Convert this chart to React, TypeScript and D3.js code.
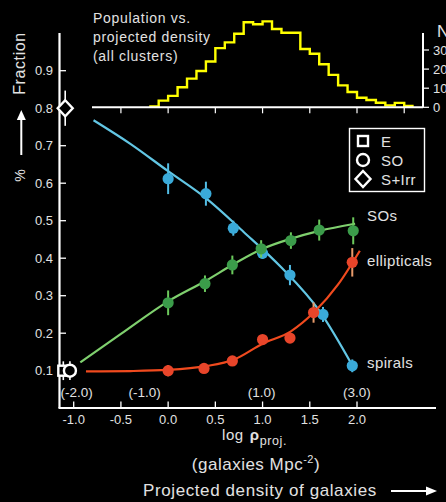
import React from 'react';
import * as d3 from 'd3';

const W = 446;
const H = 502;
const FONT = '"Liberation Sans", Arial, sans-serif';
const TXT = '#e2e2e2';

// main panel axes
const yTicks = [0.1, 0.2, 0.3, 0.4, 0.5, 0.6, 0.7, 0.8, 0.9];
const xTicks = [-1.0, -0.5, 0.0, 0.5, 1.0, 1.5, 2.0];
const densityLabels = ['(-2.0)', '(-1.0)', '(1.0)', '(3.0)'];
const densityLabelAt = [-0.97, -0.25, 0.99, 2.0];

// inset histogram: population vs projected density
const histStart = -0.2;
const histBin = 0.1;
const histCounts = [
  0.5, 3.5, 6, 10.5, 15, 19, 24, 31, 34, 38.5, 44.5, 43.5, 45, 41,
  39, 39, 30.5, 28, 22.5, 17, 11.5, 8, 5, 3.8, 2.4, 1, 2.3, 0.7,
];
const histTicks = [-0.5, 0, 0.5, 1, 1.5, 2, 2.5];
const histNTicks = [0, 10, 20, 30];

// spirals
const spiralX = [0, 0.4, 0.69, 1.0, 1.29, 1.64, 1.95];
const spiralY = [0.612, 0.572, 0.48, 0.413, 0.355, 0.25, 0.113];
const spiralErr = [0.041, 0.032, 0.02, 0.015, 0.027, 0.02, 0.017];
const spiralFitX = [-0.79, -0.4, 0, 0.4, 0.8, 1.2, 1.6, 1.97];
const spiralFitY = [0.768, 0.705, 0.632, 0.56, 0.47, 0.375, 0.26, 0.105];

// S0s
const soX = [0, 0.39, 0.68, 0.985, 1.3, 1.6, 1.96];
const soY = [0.281, 0.332, 0.382, 0.425, 0.447, 0.475, 0.473];
const soErr = [0.033, 0.022, 0.025, 0.023, 0.022, 0.028, 0.036];
const soFitX = [-0.93, -0.5, 0, 0.4, 0.7, 1.0, 1.3, 1.6, 1.98];
const soFitY = [0.122, 0.198, 0.285, 0.34, 0.385, 0.425, 0.452, 0.473, 0.492];

// ellipticals
const ellX = [0, 0.38, 0.68, 1.0, 1.29, 1.54, 1.95];
const ellY = [0.1, 0.106, 0.126, 0.183, 0.187, 0.255, 0.389];
const ellErr = [0.015, 0, 0, 0, 0, 0.027, 0.038];
const ellFitX = [-0.87, -0.4, 0, 0.4, 0.7, 1.0, 1.3, 1.55, 1.8, 2.03];
const ellFitY = [0.098, 0.099, 0.102, 0.112, 0.13, 0.172, 0.205, 0.257, 0.33, 0.42];

// field values drawn at the left edge
const fieldTypes = ['E', 'SO', 'S+Irr'];
const fieldX = [-1.11, -1.04, -1.09];
const fieldY = [0.1, 0.1, 0.8];
const fieldErr = [0.025, 0.025, 0.047];

const x = d3.scaleLinear().domain([-1, 2]).range([73.7, 357]);
const y = d3.scaleLinear().domain([0.1, 0.9]).range([370.7, 70.7]);
const hy = d3.scaleLinear().domain([0, 30]).range([107.3, 50]);

const fitLine = d3
  .line<[number, number]>()
  .x((d) => x(d[0]))
  .y((d) => y(d[1]))
  .curve(d3.curveMonotoneX);

const histLine = d3
  .line<[number, number]>()
  .x((d) => x(d[0]))
  .y((d) => hy(d[1]))
  .curve(d3.curveStepAfter);

function Marker({ type, cx, cy }: { type: string; cx: number; cy: number }) {
  const common = { fill: '#000', stroke: '#fff', strokeWidth: 2.4 };
  if (type === 'E') return <rect x={cx - 5} y={cy - 5} width={10} height={10} {...common} />;
  if (type === 'SO') return <circle cx={cx} cy={cy} r={6} {...common} />;
  return (
    <path
      d={`M${cx},${cy - 8}L${cx + 7.5},${cy}L${cx},${cy + 8}L${cx - 7.5},${cy}Z`}
      {...common}
    />
  );
}

function Series({ xs, ys, errs, fx, fy, color, lineColor, errColor }: any) {
  const fit = fx.map((v: number, i: number) => [v, fy[i]] as [number, number]);
  return (
    <g>
      <path d={fitLine(fit) || ''} fill="none" stroke={lineColor} strokeWidth={2.2} />
      {xs.map((v: number, i: number) => (
        <g key={i}>
          {errs[i] > 0 && (
            <line
              x1={x(v)}
              x2={x(v)}
              y1={y(ys[i] + errs[i])}
              y2={y(ys[i] - errs[i])}
              stroke={errColor}
              strokeWidth={2}
            />
          )}
          <circle cx={x(v)} cy={y(ys[i])} r={5.6} fill={color} />
        </g>
      ))}
    </g>
  );
}

export default function App() {
  const histPts = histCounts.map((c, i) => [histStart + i * histBin, c] as [number, number]);
  histPts.push([histStart + histCounts.length * histBin, histCounts[histCounts.length - 1]]);

  return (
    <svg
      width={W}
      height={H}
      style={{ position: 'absolute', left: 0, top: 0, background: '#000' }}
      fontFamily={FONT}
    >
      <rect width={W} height={H} fill="#000" />

      {/* inset histogram */}
      <g>
        <text fill={TXT} fontSize={14} letterSpacing={0.7}>
          <tspan x={93} y={23}>Population vs.</tspan>
          <tspan x={93} y={42}>projected density</tspan>
          <tspan x={93} y={61}>(all clusters)</tspan>
        </text>
        <path d={histLine(histPts) || ''} fill="none" stroke="#ffff00" strokeWidth={2.4} />
        <line x1={92} x2={423} y1={hy(0)} y2={hy(0)} stroke="#fff" strokeWidth={2} />
        {histTicks.map((t) => (
          <line key={t} x1={x(t)} x2={x(t)} y1={hy(0)} y2={hy(0) + 6} stroke="#fff" strokeWidth={1.2} />
        ))}
        <line x1={423} x2={423} y1={33} y2={hy(0)} stroke="#fff" strokeWidth={2} />
        {histNTicks.map((t) => (
          <g key={t}>
            <line x1={423} x2={429} y1={hy(t)} y2={hy(t)} stroke="#fff" strokeWidth={1.2} />
            <text x={433} y={hy(t) + 5} fill={TXT} fontSize={13}>{t}</text>
          </g>
        ))}
        <text x={437} y={37} fill={TXT} fontSize={17}>N</text>
      </g>

      {/* axes */}
      <line x1={59.5} x2={59.5} y1={33} y2={408} stroke="#fff" strokeWidth={2.2} />
      <line x1={58.5} x2={436} y1={408} y2={408} stroke="#fff" strokeWidth={2.2} />
      {yTicks.map((t) => (
        <g key={t}>
          <line x1={59.5} x2={66} y1={y(t)} y2={y(t)} stroke="#fff" strokeWidth={1.3} />
          <text x={53} y={y(t) + 4.6} textAnchor="end" fill={TXT} fontSize={13}>
            {t.toFixed(1)}
          </text>
        </g>
      ))}
      {xTicks.map((t) => (
        <g key={t}>
          <line x1={x(t)} x2={x(t)} y1={401.5} y2={408} stroke="#fff" strokeWidth={1.3} />
          <text x={x(t)} y={424} textAnchor="middle" fill={TXT} fontSize={13}>
            {t.toFixed(1)}
          </text>
        </g>
      ))}
      {densityLabels.map((l, i) => (
        <text key={l} x={x(densityLabelAt[i])} y={397} textAnchor="middle" fill={TXT} fontSize={13.5}>
          {l}
        </text>
      ))}

      {/* left axis titles */}
      <text transform="translate(25,63.5) rotate(-90)" textAnchor="middle" fill={TXT} fontSize={16} letterSpacing={0.6}>
        Fraction
      </text>
      <line x1={21.3} x2={21.3} y1={155} y2={117} stroke="#fff" strokeWidth={2} />
      <path d="M21.3,110L16.8,120L25.8,120Z" fill="#fff" />
      <text transform="translate(24.5,175.5) rotate(-90)" textAnchor="middle" fill={TXT} fontSize={14}>
        %
      </text>

      {/* bottom axis titles */}
      <text x={222} y={440} fill={TXT} fontSize={15} letterSpacing={0.6}>
        log
        <tspan dx={6} fontWeight="bold" fontSize={15}>ρ</tspan>
        <tspan fontSize={12.5} dy={5}>proj.</tspan>
      </text>
      <text x={256} y={470} textAnchor="middle" fill={TXT} fontSize={17} letterSpacing={0.5}>
        (galaxies Mpc
        <tspan fontSize={11} dy={-7}>-2</tspan>
        <tspan dy={7}>)</tspan>
      </text>
      <text x={143} y={495.5} fill={TXT} fontSize={17} letterSpacing={0.6}>
        Projected density of galaxies
      </text>
      <line x1={391} x2={428} y1={491} y2={491} stroke="#fff" strokeWidth={2} />
      <path d="M437,491L426,486.5L426,495.5Z" fill="#fff" />

      {/* field markers */}
      {fieldTypes.map((t, i) => (
        <line
          key={t + 'e'}
          x1={x(fieldX[i])}
          x2={x(fieldX[i])}
          y1={y(fieldY[i] + fieldErr[i])}
          y2={y(fieldY[i] - fieldErr[i])}
          stroke="#fff"
          strokeWidth={1.6}
        />
      ))}
      {fieldTypes.map((t, i) => (
        <Marker key={t} type={t} cx={x(fieldX[i])} cy={y(fieldY[i])} />
      ))}

      {/* data series */}
      <Series xs={spiralX} ys={spiralY} errs={spiralErr} fx={spiralFitX} fy={spiralFitY}
        color="#3aaad9" lineColor="#62c6e4" errColor="#52bde6" />
      <Series xs={soX} ys={soY} errs={soErr} fx={soFitX} fy={soFitY}
        color="#3b9c4a" lineColor="#7fd06e" errColor="#6cc95c" />
      <Series xs={ellX} ys={ellY} errs={ellErr} fx={ellFitX} fy={ellFitY}
        color="#e8452a" lineColor="#f04a1e" errColor="#e89a6a" />

      <text x={367} y={221} fill={TXT} fontSize={15} letterSpacing={0.4}>SOs</text>
      <text x={367} y={266} fill={TXT} fontSize={15} letterSpacing={0.4}>ellipticals</text>
      <text x={367} y={368} fill={TXT} fontSize={15} letterSpacing={0.4}>spirals</text>

      {/* legend */}
      <rect x={349.5} y={128.5} width={75} height={63} fill="none" stroke="#fff" strokeWidth={1.4} />
      {fieldTypes.map((t, i) => (
        <g key={t}>
          <Marker type={t} cx={363} cy={141 + i * 19} />
          <text x={381} y={146.5 + i * 19} fill={TXT} fontSize={15} letterSpacing={0.4}>{t}</text>
        </g>
      ))}
    </svg>
  );
}
